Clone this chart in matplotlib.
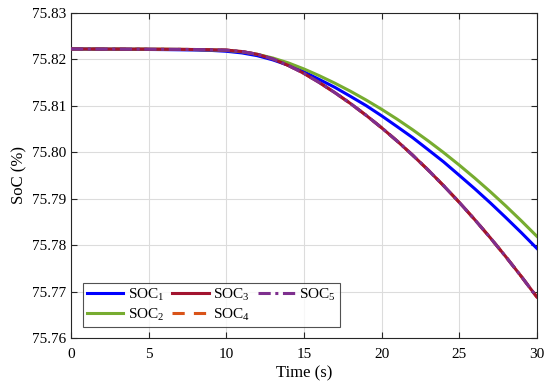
import matplotlib
matplotlib.use("Agg")
import matplotlib.pyplot as plt

plt.rcParams['font.family'] = ['Liberation Serif', 'DejaVu Serif']
plt.rcParams['mathtext.fontset'] = 'custom'
plt.rcParams['mathtext.rm'] = 'Liberation Serif'

t = list(range(0, 31))
soc1 = [75.82220, 75.82217, 75.82215, 75.82213, 75.82211, 75.82209, 75.82206,
        75.82202, 75.82197, 75.82189, 75.82170, 75.82135, 75.82075, 75.81985,
        75.81870, 75.81730, 75.81563, 75.81393, 75.81200, 75.81003, 75.80783,
        75.80550, 75.80313, 75.80053, 75.79790, 75.79503, 75.79213, 75.78910,
        75.78593, 75.78268, 75.77930]
soc2 = [75.82220, 75.82219, 75.82218, 75.82217, 75.82216, 75.82215, 75.82213,
        75.82210, 75.82206, 75.82200, 75.82190, 75.82160, 75.82105, 75.82025,
        75.81920, 75.81790, 75.81643, 75.81483, 75.81310, 75.81123, 75.80923,
        75.80710, 75.80483, 75.80243, 75.79990, 75.79723, 75.79443, 75.79150,
        75.78843, 75.78523, 75.78190]
soc3 = [75.82220, 75.82219, 75.82218, 75.82217, 75.82216, 75.82215, 75.82213,
        75.82211, 75.82208, 75.82203, 75.82195, 75.82165, 75.82105, 75.82005,
        75.81865, 75.81695, 75.81496, 75.81279, 75.81046, 75.80794, 75.80526,
        75.80240, 75.79936, 75.79616, 75.79277, 75.78922, 75.78549, 75.78159,
        75.77751, 75.77326, 75.76884]
soc4 = list(soc3)
soc5 = list(soc3)

xticks = [0, 5, 10, 15, 20, 25, 30]
yticks = [75.76, 75.77, 75.78, 75.79, 75.80, 75.81, 75.82, 75.83]

fig = plt.figure(figsize=(5.5, 3.91), dpi=100)
ax = fig.add_axes([0.129, 0.1355, 0.847, 0.832])

lw = 2.2
ax.plot(t, soc1, color=(0, 0, 1), lw=lw, label='SOC$_1$', zorder=3)
ax.plot(t, soc2, color=(0.466, 0.674, 0.188), lw=lw, label='SOC$_2$', zorder=3)
ax.plot(t, soc3, color=(0.635, 0.078, 0.184), lw=lw, label='SOC$_3$', zorder=4)
ax.plot(t, soc4, color=(0.85, 0.325, 0.098), lw=lw, ls=(0, (4, 3)), label='SOC$_4$', zorder=2.5)
ax.plot(t, soc5, color=(0.494, 0.184, 0.556), lw=lw, ls=(0, (4, 1.5, 1, 1.5)), label='SOC$_5$', zorder=5)

ax.set_xlim(0, 30)
ax.set_ylim(75.76, 75.83)
ax.set_xticks(xticks)
ax.set_yticks(yticks)
ax.set_yticklabels([f"{v:.2f}" for v in yticks])
ax.grid(True, color='#dcdcdc', lw=0.8)
ax.set_axisbelow(True)
ax.tick_params(direction='in', top=True, right=True, labelsize=11, length=4, width=0.8, color='#262626')
ax.tick_params(axis='x', pad=7)
for s in ax.spines.values():
    s.set_color('#262626')
    s.set_linewidth(0.8)
ax.set_xlabel('Time (s)', fontsize=12, labelpad=3)
ax.set_ylabel('SoC (%)', fontsize=12, labelpad=3)

leg = ax.legend(loc='lower left', ncol=3, fontsize=11, frameon=True, fancybox=False,
                edgecolor='#262626', handlelength=2.4, columnspacing=0.5,
                handletextpad=0.3, borderpad=0.24, labelspacing=0.23,
                borderaxespad=0, bbox_to_anchor=(0.0258, 0.0338))
leg.get_frame().set_linewidth(0.8)

fig.savefig('out.png', dpi=100)
